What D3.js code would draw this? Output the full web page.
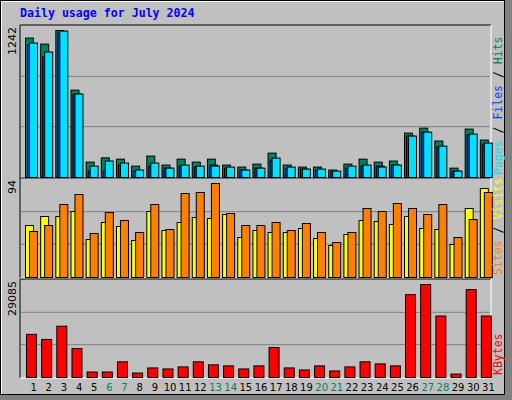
<!DOCTYPE html>
<html><head><meta charset="utf-8">
<script src="https://cdn.jsdelivr.net/npm/d3@7"></script>
<style>body{margin:0;background:#fff}</style>
</head><body>
<script>
// daily values
const days = d3.range(1, 32)
const weekend = [6, 7, 13, 14, 20, 21, 27, 28]
const hits = [1178,1127,1242,738,130,166,155,96,181,105,155,130,155,105,88,113,206,105,88,88,63,113,155,130,139,375,417,308,79,409,316]
const files = [1119,1017,1220,705,54,54,105,54,96,79,96,88,105,79,63,79,147,79,71,63,46,79,96,96,105,350,383,257,54,358,282]
const pages = [1136,1060,1237,705,96,139,122,63,122,79,105,96,96,88,63,79,164,88,71,71,54,96,105,88,105,350,383,265,54,367,291]
const visits = [52,61,61,66,38,55,51,37,66,47,55,60,59,63,40,47,45,45,49,39,32,43,57,56,53,61,49,48,33,69,89]
const sites = [46,52,73,83,44,65,57,45,73,48,84,85,94,64,52,52,55,47,54,45,35,45,69,66,74,69,63,73,40,58,85]
const kbytes = [13490,11900,16040,9040,1720,1720,4900,1400,2990,2670,3310,4900,3950,3630,2670,3630,9360,2990,2350,3630,2040,3310,4900,4260,3630,25900,29085,19220,1080,27490,19220]

const svg = d3.select('body').append('svg').attr('width', 512).attr('height', 400)
  .style('font-family', 'DejaVu Sans Mono, monospace')

// frame
svg.append('rect').attr('x', 0).attr('y', 0).attr('width', 512).attr('height', 400).attr('fill', '#808080')
svg.append('rect').attr('x', 0).attr('y', 0).attr('width', 505).attr('height', 395).attr('fill', '#000')
svg.append('rect').attr('x', 1).attr('y', 1).attr('width', 503).attr('height', 393).attr('fill', '#fff')
svg.append('rect').attr('x', 2).attr('y', 2).attr('width', 502).attr('height', 392).attr('fill', '#c0c0c0')

svg.append('text').attr('x', 20).attr('y', 17).text('Daily usage for July 2024')
  .attr('fill', '#0000ff').attr('font-weight', 'bold').attr('font-size', 11.6)

const x = d3.scaleBand().domain(days).range([20, 490])

const panels = [
  {top: 26, bot: 177, max: 1242, series: [[hits, '#00805c', 0], [files, '#0040ff', 2], [pages, '#00e0ff', 4]], w: 8,
   labels: [['Pages', '#00e0ff'], [' / ', '#000'], ['Files', '#0040ff'], [' / ', '#000'], ['Hits', '#00805c']]},
  {top: 179, bot: 277, max: 94, series: [[visits, '#ffff00', 0], [sites, '#ff8000', 4]], w: 8,
   labels: [['Sites', '#ff8000'], [' / ', '#000'], ['Visits', '#ffff00']]},
  {top: 280, bot: 377, max: 29085, series: [[kbytes, '#ff0000', 1]], w: 10,
   labels: [['KBytes', '#ff0000']]}
]

panels.forEach(p => {
  const y = d3.scaleLinear().domain([0, p.max]).range([p.bot, p.top + 4])
  const g = svg.append('g')
  g.append('line').attr('x1', 20).attr('x2', 491).attr('y1', p.top - 1).attr('y2', p.top - 1).attr('stroke', '#000')
  g.append('line').attr('x1', 20).attr('x2', 20).attr('y1', p.top - 1).attr('y2', p.bot + 1).attr('stroke', '#000')
  g.append('line').attr('x1', 491).attr('x2', 491).attr('y1', p.top - 1).attr('y2', p.bot + 1).attr('stroke', '#fff')
  g.append('line').attr('x1', 20).attr('x2', 491).attr('y1', p.bot + 1).attr('y2', p.bot + 1).attr('stroke', '#fff')
  const step = (p.bot - p.top) / 3
  ;[1, 2].forEach(i => g.append('line').attr('x1', 21).attr('x2', 490)
    .attr('y1', p.bot - step * i).attr('y2', p.bot - step * i).attr('stroke', '#808080'))
  p.series.forEach(([vals, col, off]) => {
    g.selectAll(null).data(days).enter().append('rect')
      .attr('x', d => x(d) + 5 + off + 0.5)
      .attr('y', (d, i) => y(vals[i]) + 0.5)
      .attr('width', p.w)
      .attr('height', (d, i) => p.bot - y(vals[i]))
      .attr('fill', col).attr('stroke', '#000')
  })
  svg.append('text').attr('transform', `translate(16,${p.top + 1}) rotate(-90)`)
    .attr('text-anchor', 'end').attr('font-size', 11).attr('font-family', 'DejaVu Sans, sans-serif')
    .text(p.max)
  const t = svg.append('text').attr('transform', `translate(502,${p.bot - 2}) rotate(-90)`)
    .attr('font-size', 11.5)
  p.labels.forEach(([s, c]) => t.append('tspan').attr('fill', c).attr('xml:space', 'preserve').style('white-space', 'pre').text(s))
})

svg.selectAll('.day').data(days).enter().append('text')
  .attr('x', d => x(d) + x.bandwidth() / 2 + 6)
  .attr('y', 391).attr('text-anchor', 'middle').attr('font-size', 10)
  .attr('font-family', 'DejaVu Sans, sans-serif')
  .attr('fill', d => weekend.includes(d) ? '#00805c' : '#000')
  .text(d => d)
</script>
</body></html>
